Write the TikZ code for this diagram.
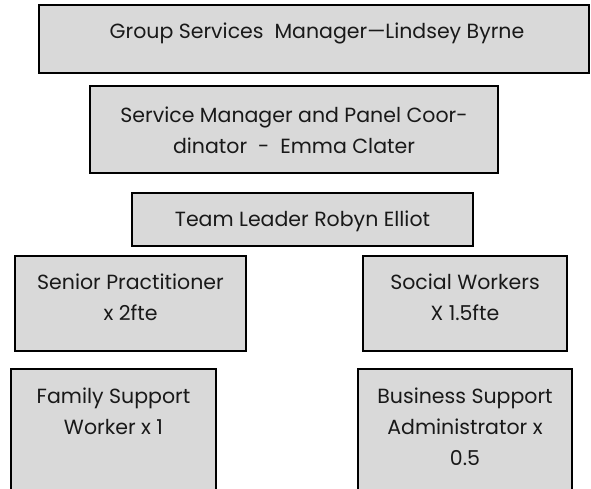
\documentclass[tikz,border=0pt]{standalone}
\usepackage{fontspec}
\setmainfont{Poppins}
\definecolor{boxgray}{HTML}{D9D9D9}
\begin{document}
\begin{tikzpicture}[x=1pt,y=-1pt,
  box/.style={draw=black, line width=1.4pt, fill=boxgray, inner sep=0pt},
  lbl/.style={font=\fontsize{20.5}{31}\selectfont, align=center, inner sep=0pt, text=black!90}]
\useasboundingbox (0,0) rectangle (591,488);
\clip (0,0) rectangle (591,488);
% boxes
\node[box, minimum width=550pt, minimum height=68pt] (b1) at (314,39) {};
\node[box, minimum width=408pt, minimum height=87pt] (b2) at (294,129.5) {};
\node[box, minimum width=341pt, minimum height=53pt] (b3) at (302.5,219.5) {};
\node[box, minimum width=231pt, minimum height=95pt] (b4) at (130.5,303.5) {};
\node[box, minimum width=204pt, minimum height=95pt] (b5) at (465,303.5) {};
\node[box, minimum width=205pt, minimum height=140pt] (b6) at (113.5,439) {};
\node[box, minimum width=214pt, minimum height=140pt] (b7) at (465,439) {};
% labels
\node[lbl] (t1) at (317,33) {Group Services\ \ Manager---Lindsey Byrne};
\node[lbl] (t2) at (294,130) {Service Manager and Panel Coor-\\dinator\ \ -\ \ Emma Clater};
\node[lbl] (t3) at (302.5,221) {Team Leader Robyn Elliot};
\node[lbl] (t4) at (130.5,297.5) {Senior Practitioner\\x 2fte};
\node[lbl] (t5) at (465,297.5) {Social Workers\\X 1.5fte};
\node[lbl] (t6) at (113.5,411) {Family Support\\Worker x 1};
\node[lbl] (t7) at (465,427) {Business Support\\Administrator x\\0.5};
\end{tikzpicture}
\end{document}
